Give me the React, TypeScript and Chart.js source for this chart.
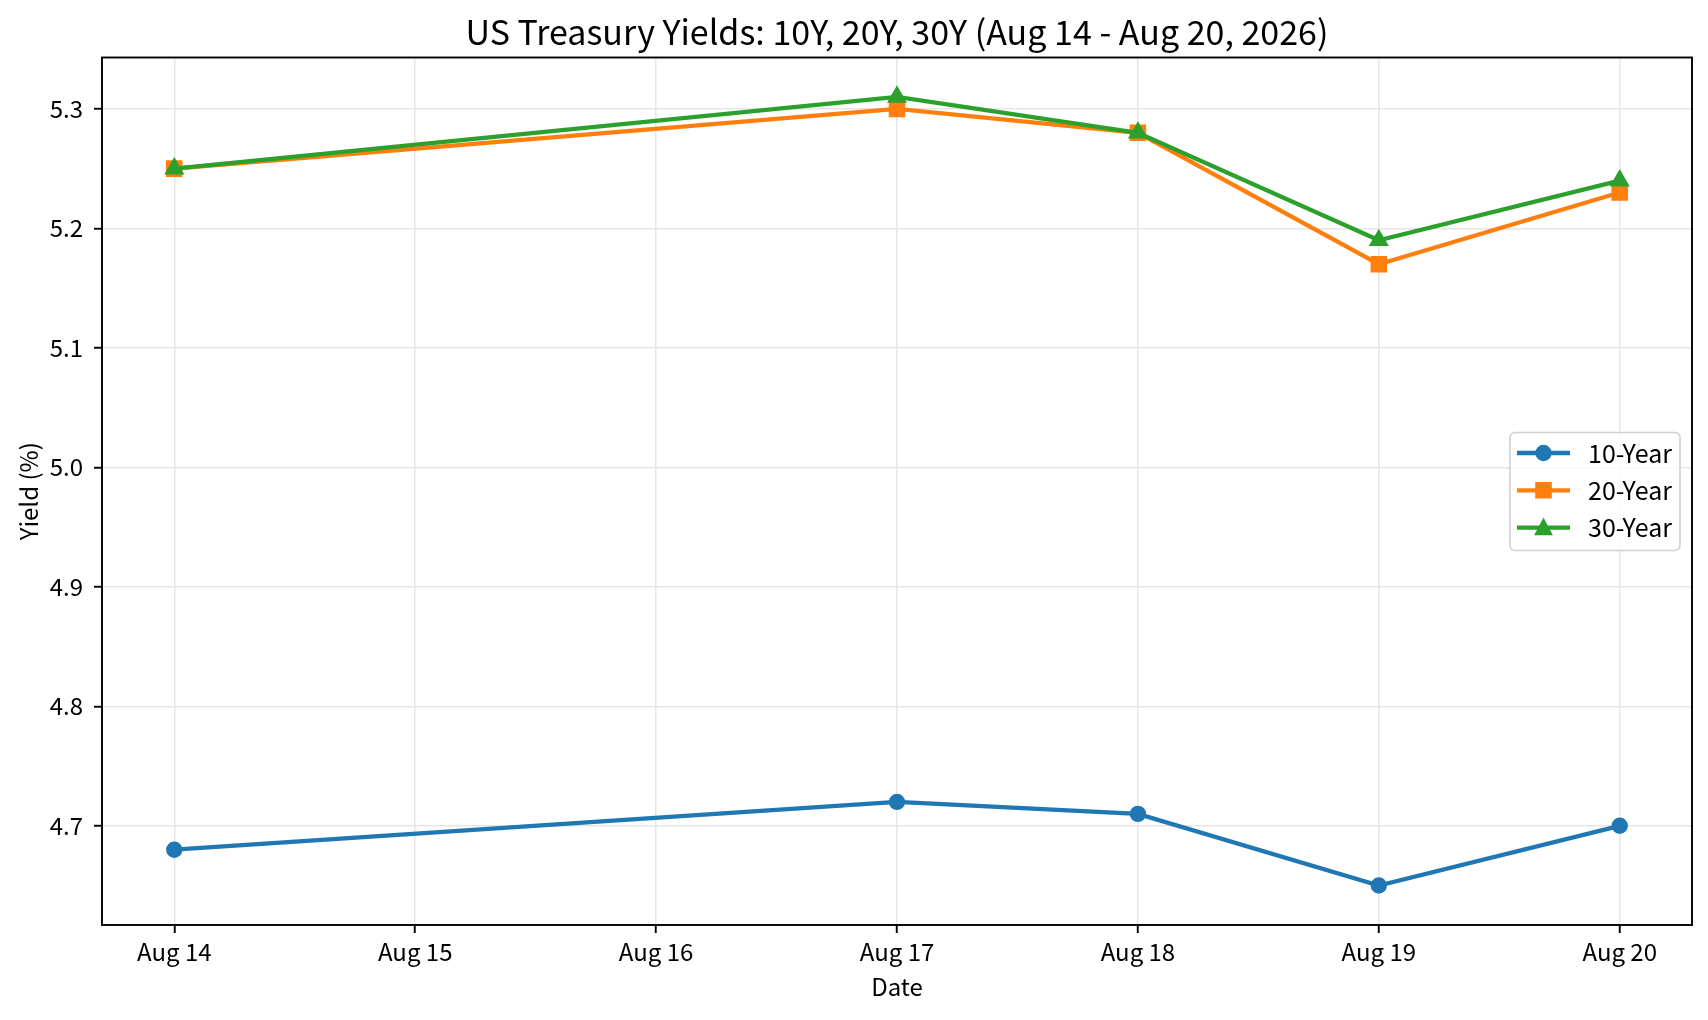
import React, { useEffect, useRef } from 'react';
import { Chart, registerables } from 'chart.js';

Chart.register(...registerables);

// ---- data ----
const dayLabels = ['Aug 14', 'Aug 15', 'Aug 16', 'Aug 17', 'Aug 18', 'Aug 19', 'Aug 20'];
const dates = ['Aug 14', 'Aug 17', 'Aug 18', 'Aug 19', 'Aug 20'];
const yield10 = [4.68, 4.72, 4.71, 4.65, 4.70];
const yield20 = [5.25, 5.30, 5.28, 5.17, 5.23];
const yield30 = [5.25, 5.31, 5.28, 5.19, 5.24];
const yTicks = [4.7, 4.8, 4.9, 5.0, 5.1, 5.2, 5.3];
const seriesNames = ['10-Year', '20-Year', '30-Year'];
const seriesColors = ['#1f77b4', '#ff7f0e', '#2ca02c'];
const seriesMarkers = ['circle', 'rect', 'triangle'];
const chartTitle = 'US Treasury Yields: 10Y, 20Y, 30Y (Aug 14 - Aug 20, 2026)';
const xTitle = 'Date';
const yTitle = 'Yield (%)';

const FONT = '"Noto Sans CJK SC", "Noto Sans", sans-serif';
const LINE_W = 4.3;

function toPoints(vals: number[]) {
  return vals.map((v, i) => ({ x: dayLabels.indexOf(dates[i]), y: v }));
}

function drawMarker(ctx: CanvasRenderingContext2D, kind: string, x: number, y: number, color: string) {
  ctx.save();
  ctx.fillStyle = color;
  ctx.strokeStyle = color;
  ctx.lineWidth = 2.4;
  ctx.beginPath();
  if (kind === 'circle') {
    ctx.arc(x, y, 7, 0, Math.PI * 2);
  } else if (kind === 'rect') {
    ctx.rect(x - 7.1, y - 7.1, 14.2, 14.2);
  } else {
    ctx.moveTo(x, y - 7.5);
    ctx.lineTo(x - 7.4, y + 6.5);
    ctx.lineTo(x + 7.4, y + 6.5);
    ctx.closePath();
  }
  ctx.fill();
  ctx.stroke();
  ctx.restore();
}

const titlePlugin = {
  id: 'mplTitle',
  afterDraw(chart: any) {
    const { ctx, chartArea: a } = chart;
    ctx.save();
    ctx.fillStyle = '#000';
    ctx.font = `34px ${FONT}`;
    ctx.textAlign = 'center';
    ctx.textBaseline = 'middle';
    ctx.fillText(chartTitle, (a.left + a.right) / 2, 32);
    ctx.restore();
  },
};

const framePlugin = {
  id: 'frame',
  afterDatasetsDraw(chart: any) {
    const { ctx, chartArea: a } = chart;
    ctx.save();
    ctx.strokeStyle = '#000';
    ctx.lineWidth = 1.9;
    ctx.strokeRect(a.left, a.top, a.right - a.left, a.bottom - a.top);
    ctx.restore();
  },
};

const legendPlugin = {
  id: 'mplLegend',
  afterDraw(chart: any) {
    const { ctx, chartArea: a } = chart;
    const x0 = a.right - 182;
    const y0 = a.top + 375;
    const w = 170;
    const h = 118;
    ctx.save();
    ctx.beginPath();
    ctx.roundRect(x0, y0, w, h, 5);
    ctx.fillStyle = 'rgba(255,255,255,0.8)';
    ctx.fill();
    ctx.strokeStyle = '#d0d0d0';
    ctx.lineWidth = 1.6;
    ctx.stroke();
    seriesNames.forEach((name, i) => {
      const cy = y0 + 20.5 + i * 37.3;
      const color = seriesColors[i];
      ctx.beginPath();
      ctx.strokeStyle = color;
      ctx.lineWidth = LINE_W;
      ctx.moveTo(x0 + 7, cy);
      ctx.lineTo(x0 + 60, cy);
      ctx.stroke();
      drawMarker(ctx, seriesMarkers[i], x0 + 33.5, cy, color);
      ctx.fillStyle = '#000';
      ctx.font = `25px ${FONT}`;
      ctx.textBaseline = 'middle';
      ctx.textAlign = 'left';
      ctx.fillText(name, x0 + 78, cy);
    });
    ctx.restore();
  },
};

export default function App() {
  const ref = useRef<HTMLCanvasElement | null>(null);

  useEffect(() => {
    if (!ref.current) return;
    Chart.defaults.font.family = FONT;
    Chart.defaults.color = '#000';

    const allVals = [...yield10, ...yield20, ...yield30];
    const yMinData = Math.min(...allVals);
    const yMaxData = Math.max(...allVals);
    const yPad = (yMaxData - yMinData) * 0.05;
    const xIdx = dates.map((d) => dayLabels.indexOf(d));
    const xMinData = Math.min(...xIdx);
    const xMaxData = Math.max(...xIdx);
    const xPad = (xMaxData - xMinData) * 0.05;

    const series = [yield10, yield20, yield30];
    const chart = new Chart(ref.current, {
      type: 'line',
      data: {
        datasets: series.map((vals, i) => ({
          label: seriesNames[i],
          data: toPoints(vals),
          borderColor: seriesColors[i],
          backgroundColor: seriesColors[i],
          borderWidth: LINE_W,
          pointStyle: seriesMarkers[i] as any,
          pointRadius: i === 0 ? 7 : i === 1 ? 10 : 9.2,
          pointBorderWidth: 2.4,
          pointBorderColor: seriesColors[i],
          pointBackgroundColor: seriesColors[i],
          tension: 0,
          fill: false,
          order: 3 - i,
        })),
      },
      options: {
        animation: false,
        responsive: false,
        devicePixelRatio: 1,
        layout: { padding: { left: 0, right: 16, top: 57.5, bottom: 0 } },
        plugins: {
          legend: { display: false },
          tooltip: { enabled: false },
          title: { display: false },
        },
        scales: {
          x: {
            type: 'linear',
            min: xMinData - xPad,
            max: xMaxData + xPad,
            afterBuildTicks: (s: any) => {
              s.ticks = dayLabels.map((_, i) => ({ value: i }));
            },
            afterFit: (s: any) => {
              s.height = 95;
            },
            ticks: {
              callback: (v: any) => dayLabels[Math.round(Number(v))] ?? '',
              font: { size: 24 },
              color: '#000',
              padding: 4,
              maxRotation: 0,
              autoSkip: false,
            },
            grid: {
              color: '#e6e6e6',
              lineWidth: 1.5,
              tickColor: '#000',
              tickLength: 8,
              tickWidth: 1.9,
            },
            border: { display: false },
            title: {
              display: true,
              text: xTitle,
              font: { size: 24 },
              color: '#000',
              padding: { top: 0, bottom: 19 },
            },
          },
          y: {
            type: 'linear',
            min: yMinData - yPad,
            max: yMaxData + yPad,
            afterBuildTicks: (s: any) => {
              s.ticks = yTicks.map((v) => ({ value: v }));
            },
            afterFit: (s: any) => {
              s.width = 102;
            },
            ticks: {
              callback: (v: any) => Number(v).toFixed(1),
              font: { size: 24 },
              color: '#000',
              padding: 11,
            },
            grid: {
              color: '#e6e6e6',
              lineWidth: 1.5,
              tickColor: '#000',
              tickLength: 8,
              tickWidth: 1.9,
            },
            border: { display: false },
            title: {
              display: true,
              text: yTitle,
              font: { size: 24 },
              color: '#000',
              padding: { top: 14, bottom: 0 },
            },
          },
        },
      },
      plugins: [framePlugin, legendPlugin, titlePlugin],
    } as any);

    return () => chart.destroy();
  }, []);

  return (
    <div style={{ position: 'absolute', left: 0, top: 0, width: 1708, height: 1020, background: '#fff' }}>
      <canvas ref={ref} width={1708} height={1020} style={{ display: 'block' }} />
    </div>
  );
}
